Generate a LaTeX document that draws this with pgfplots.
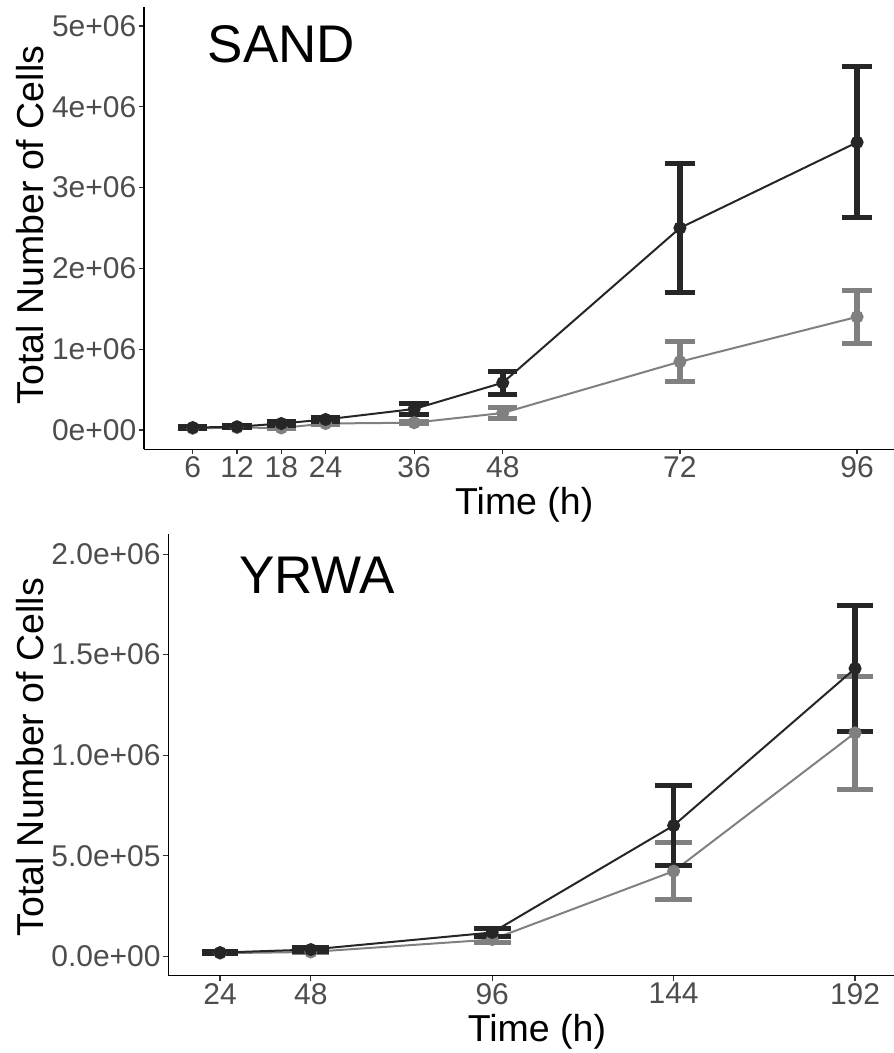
\documentclass[border=0pt]{standalone}
\usepackage{fontspec}
\setmainfont{Liberation Sans}
\usepackage{pgfplots}
\pgfplotsset{compat=1.18}
\usepackage{pgfplotstable}
\definecolor{dk}{HTML}{262626}
\definecolor{gr}{HTML}{808080}
\definecolor{tk}{HTML}{4D4D4D}

\pgfplotstableread{
t y e
6 30000 10000
12 40000 10000
18 80000 25000
24 130000 25000
36 260000 65000
48 585000 140000
72 2500000 800000
96 3560000 935000
}\sandblack
\pgfplotstableread{
t y e
6 20000 5000
12 30000 5000
18 25000 10000
24 80000 15000
36 90000 15000
48 210000 65000
72 845000 245000
96 1400000 330000
}\sandgray
\pgfplotstableread{
t y e
24 18000 5000
48 33000 10000
96 118000 20000
144 650000 200000
192 1431000 315000
}\yrwablack
\pgfplotstableread{
t y e
24 15000 3000
48 21000 5000
96 83000 13000
144 423000 143000
192 1111000 280000
}\yrwagray

\pgfplotsset{
 panel/.style={
  scale only axis, anchor=south west,
  axis x line*=bottom, axis y line*=left,
  axis line style={line width=1.3bp, black, -},
  tick align=outside, major tick length=5bp,
  tick style={line width=1.2bp, color=black!80},
  scaled y ticks=false, scaled x ticks=false,
  ticklabel style={font=\fontsize{30bp}{36bp}\selectfont, text=tk, inner sep=2.5bp},
  label style={font=\fontsize{37.5bp}{44bp}\selectfont, text=black},
  xlabel style={anchor=base},
  ylabel style={anchor=base},
  clip=false,
 },
 ser/.style 2 args={#1, line width=2bp, mark=*, mark size=5.5bp,
   mark options={draw=none, fill=#1},
   error bars/.cd, y dir=both, y explicit,
   error bar style={line width=5.5bp, #1},
   error mark options={rotate=90, mark size=#2, line width=5bp, #1}},
}

\begin{document}
\begin{tikzpicture}
\path[use as bounding box] (0,0) rectangle (894bp,1053bp);

% SAND
\begin{axis}[panel,
  at={(144bp,603.7bp)}, width=750bp, height=442.3bp,
  xmin=-0.6, xmax=101.0, ymin=-239000, ymax=5235000,
  xtick={6,12,18,24,36,48,72,96},
  xticklabels={6,12,18,24,36,48,72,96},
  ytick={0,1000000,2000000,3000000,4000000,5000000},
  yticklabels={0e+00,1e+06,2e+06,3e+06,4e+06,5e+06},
  xlabel={Time (h)}, ylabel={Total Number of Cells},
  xlabel style={at={(axis description cs:0.507,-0.1485)}},
  ylabel style={at={(axis description cs:-0.1346,0.507)}},
]
\addplot[ser={gr}{14.7bp}] table[x=t, y=y, y error=e] {\sandgray};
\addplot[ser={dk}{14.7bp}] table[x=t, y=y, y error=e] {\sandblack};
\node[anchor=base west, inner sep=0pt, font=\fontsize{53bp}{60bp}\selectfont]
  at (axis cs:8.0,4546000) {SAND};
\end{axis}

% YRWA
\begin{axis}[panel,
  at={(168.3bp,77.5bp)}, width=725.7bp, height=441.5bp,
  xmin=10.3, xmax=202.3, ymin=-96000, ymax=2100000,
  xtick={24,48,96,144,192},
  xticklabels={24,48,96,144,192},
  ytick={0,500000,1000000,1500000,2000000},
  yticklabels={0.0e+00,5.0e+05,1.0e+06,1.5e+06,2.0e+06},
  xlabel={Time (h)}, ylabel={Total Number of Cells},
  xlabel style={at={(axis description cs:0.508,-0.1488)}},
  ylabel style={at={(axis description cs:-0.1726,0.494)}},
]
\addplot[ser={gr}{18.3bp}] table[x=t, y=y, y error=e] {\yrwagray};
\addplot[ser={dk}{18.3bp}] table[x=t, y=y, y error=e] {\yrwablack};
\node[anchor=base west, inner sep=0pt, font=\fontsize{53bp}{60bp}\selectfont]
  at (axis cs:29.0,1806000) {YRWA};
\end{axis}
\end{tikzpicture}
\end{document}
